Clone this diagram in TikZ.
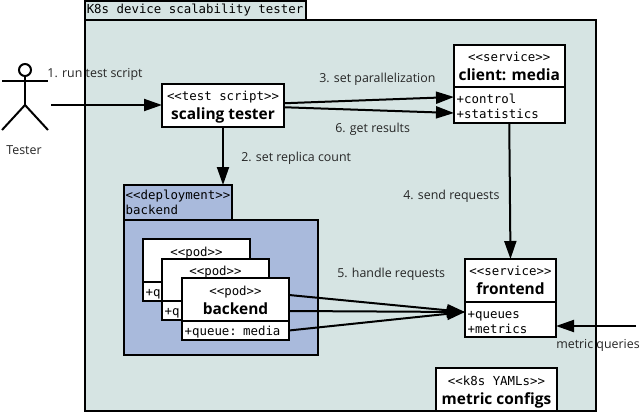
\documentclass[tikz,border=0pt]{standalone}
\usepackage{fontspec}
\setmainfont{Open Sans}
\setmonofont{DejaVu Sans Mono}
\usepackage{xcolor}
\usetikzlibrary{arrows.meta, positioning}

\definecolor{framegreen}{HTML}{D6E4E3}
\definecolor{deployblue}{HTML}{A9BADC}

\newcommand{\px}{0.75pt}
\newcommand{\classname}[2]{\rule{0pt}{10.85pt}{\fontsize{9.3pt}{14pt}\ttfamily #1}\\[2.25pt]{\fontsize{11.6pt}{14pt}\selectfont\bfseries #2}\rule[-3pt]{0pt}{3pt}}

\tikzset{
  box/.style={draw=black, line width=1.5pt, outer sep=0pt, inner sep=0pt},
  classhead/.style={box, fill=white, align=center, anchor=north west},
  classbody/.style={box, fill=white, align=left, anchor=north west,
    minimum width=#1*\px, text width=#1*\px-4pt, inner xsep=2pt,
    execute at begin node=\rule{0pt}{10pt},
    font=\fontsize{9.3pt}{11.25pt}\ttfamily},
  tabtext/.style={box, align=left, anchor=north west,
    font=\fontsize{9.3pt}{11.25pt}\ttfamily},
  arrowtext/.style={font=\fontsize{9.3pt}{11pt}\selectfont, text=black!85, inner sep=0pt},
  conn/.style={line width=1.5pt, -{Triangle[length=13.5pt, width=9pt]}},
  stick/.style={line width=1.5pt}
}

\begin{document}
\begin{tikzpicture}[x=0.75pt, y=-0.75pt]
  \useasboundingbox (0,0) rectangle (640,414);

  % outer frame
  \node[tabtext, fill=framegreen, minimum width=221*\px, minimum height=19*\px] (outertab) at (84.5,1) {K8s device scalability tester};
  \node[box, fill=framegreen, anchor=north west, minimum width=511.5*\px, minimum height=391*\px] (outer) at (84.5,20) {};

  % actor
  \node[draw=black, stick, fill=white, circle, minimum size=12*\px, inner sep=0pt, outer sep=0pt] (head) at (25,70) {};
  \coordinate (hip) at (25,105);
  \coordinate (armL) at (2,81);
  \coordinate (armR) at (48,81);
  \coordinate (footL) at (2,130);
  \coordinate (footR) at (48,130);
  \coordinate (hand) at (51,105);
  \draw[stick] (head.south) -- (hip);
  \draw[stick] (armL) -- (armR);
  \draw[stick] (footL) -- (hip) -- (footR);
  \node[arrowtext] (testerlabel) at (24,150) {Tester};

  % test script
  \node[classhead, minimum width=122*\px, minimum height=42.5*\px] (tester) at (162,84) {\classname{<<test script>>}{scaling tester}};

  % client
  \node[classhead, minimum width=110.5*\px, minimum height=42*\px] (client) at (454,45) {\classname{<<service>>}{client: media}};
  \node[classbody=110.5, minimum height=35.5*\px] (clientbody) at (454,87) {+control\\+statistics};

  % frontend
  \node[classhead, minimum width=91*\px, minimum height=42.5*\px] (frontend) at (465,259) {\classname{<<service>>}{frontend}};
  \node[classbody=91, minimum height=35*\px] (frontendbody) at (465,301.5) {+queues\\+metrics};

  % metric configs
  \node[classhead, minimum width=121*\px, minimum height=43*\px] (configs) at (436,368) {\classname{<<k8s YAMLs>>}{metric configs}};

  % deployment
  \node[tabtext, fill=deployblue, minimum width=108*\px, minimum height=35*\px] (deploytab) at (124,185) {<<deployment>>\\backend};
  \node[box, fill=deployblue, anchor=north west, minimum width=194*\px, minimum height=135*\px] (deploy) at (124,220) {};

  % pods, back to front
  \node[classhead, minimum width=107*\px, minimum height=43*\px] (podA) at (143,239) {\classname{<<pod>>}{\phantom{backend}}};
  \node[classbody=107, minimum height=19*\px] (podAbody) at (143,282) {+q};
  \node[classhead, minimum width=107*\px, minimum height=42*\px] (podB) at (162,259) {\classname{<<pod>>}{\phantom{backend}}};
  \node[classbody=107, minimum height=19*\px] (podBbody) at (162,301) {+q};
  \node[classhead, minimum width=107*\px, minimum height=43*\px] (podC) at (182,278) {\classname{<<pod>>}{backend}};
  \node[classbody=107, minimum height=19*\px] (podCbody) at (182,321) {+queue: media};

  % connectors
  \draw[conn] (hand) -- (tester.west |- hand);
  \draw[conn] (tester.south) -- (tester.south |- deploytab.north);
  \draw[conn] ([yshift=2*\px]tester.east) -- ([yshift=7.75*\px]clientbody.west);
  \draw[conn] ([yshift=-2*\px]tester.east) -- ([yshift=-8.25*\px]clientbody.west);
  \draw[conn] (clientbody.south) -- (frontend.north);
  \coordinate (hub) at (465,312);
  \draw[conn] ([yshift=4.5*\px]podC.east) -- (hub);
  \draw[conn] ([yshift=-11.5*\px]podC.east) -- (hub);
  \draw[conn] (podCbody.east) -- (hub);
  \coordinate (scrape) at (636,326);
  \draw[conn] (scrape) -- (frontendbody.east |- scrape);

  % labels
  \node[arrowtext] (run) at (95,74) {1. run test script};
  \node[arrowtext, anchor=west] (replica) at (241,158) {2. set replica count};
  \node[arrowtext, anchor=west] (parallel) at (319,79) {3. set parallelization};
  \node[arrowtext, anchor=west] (send) at (403,196) {4. send requests};
  \node[arrowtext, anchor=west] (handle) at (337,274) {5. handle requests};
  \node[arrowtext, anchor=west] (results) at (335,129) {6. get results};
  \node[arrowtext, anchor=west] (queries) at (556,345) {metric queries};

\end{tikzpicture}
\end{document}
